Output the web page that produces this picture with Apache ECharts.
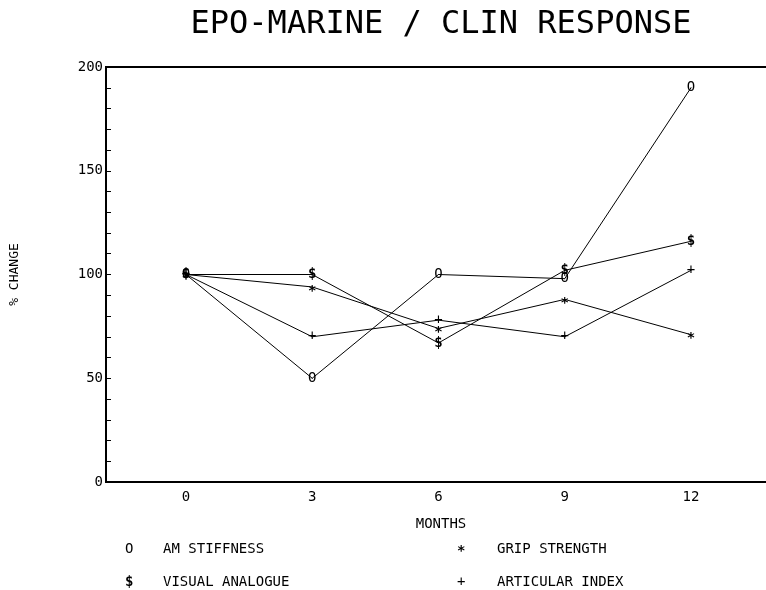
<!DOCTYPE html>
<html><head><meta charset="utf-8">
<script src="https://cdn.jsdelivr.net/npm/echarts/dist/echarts.min.js"></script>
<style>html,body{margin:0;padding:0;background:#fff}#c{width:766px;height:590px}</style>
</head><body><div id="c"></div>
<script>
const titleText = 'EPO-MARINE / CLIN RESPONSE';
const months = [0, 3, 6, 9, 12];
const yTicks = [0, 50, 100, 150, 200];
const seriesNames = ['AM STIFFNESS', 'VISUAL ANALOGUE', 'GRIP STRENGTH', 'ARTICULAR INDEX'];
const seriesMarks = ['O', '$', '*', '+'];
const amStiffness = [100, 50, 100, 98, 190];
const visualAnalogue = [100, 100, 67, 102, 116];
const gripStrength = [100, 94, 74, 88, 71];
const articularIndex = [100, 70, 78, 70, 102];

const seriesValues = [amStiffness, visualAnalogue, gripStrength, articularIndex];
const FONT = '"DejaVu Sans Mono", monospace';
const markOffset = [[0, 0], [0, 0], [0, 4], [0, 0]];
const markWeight = ['normal', 'bold', 'bold', 'normal'];

const chart = echarts.init(document.getElementById('c'), null, {renderer: 'canvas'});

const series = seriesNames.map((name, i) => ({
  name: name,
  type: 'line',
  data: months.map((m, j) => [m, seriesValues[i][j]]),
  symbol: 'circle',
  symbolSize: 1,
  itemStyle: {color: '#000'},
  lineStyle: {color: '#000', width: 1},
  label: {
    show: true, position: 'inside', formatter: seriesMarks[i], offset: markOffset[i],
    fontFamily: FONT, fontSize: 14, fontWeight: markWeight[i], color: '#000'
  },
  z: 3
}));

// legend layout: two columns, two rows
const legendOrder = [0, 2, 1, 3];
const colSym = [125, 457], colTxt = [163, 497], rowY = [550, 583];
const graphics = [];
legendOrder.forEach((si, k) => {
  const col = k % 2, row = Math.floor(k / 2);
  graphics.push({type: 'text', left: colSym[col], top: rowY[row] - 8 + markOffset[si][1] / 2,
    style: {text: seriesMarks[si], font: markWeight[si] + ' 14px ' + FONT, fill: '#000'}});
  graphics.push({type: 'text', left: colTxt[col], top: rowY[row] - 8,
    style: {text: seriesNames[si], font: '14px ' + FONT, fill: '#000'}});
});

chart.setOption({
  animation: false,
  backgroundColor: '#fff',
  title: {
    text: titleText, left: 436, top: 4, textAlign: 'center',
    textStyle: {fontFamily: FONT, fontSize: 32, fontWeight: 'normal', color: '#000'}
  },
  grid: {left: 106, top: 67, width: 670, height: 415, containLabel: false, outerBoundsMode: 'none',
    show: true, borderColor: '#000', borderWidth: 2},
  xAxis: {
    type: 'value', min: -1.9, max: 14.02,
    name: 'MONTHS', nameLocation: 'middle', nameGap: 35,
    nameTextStyle: {fontFamily: FONT, fontSize: 14, color: '#000'},
    splitLine: {show: false},
    axisLine: {show: true, onZero: false, lineStyle: {color: '#000', width: 2}},
    axisTick: {show: false},
    axisLabel: {customValues: months, fontFamily: FONT, fontSize: 14, color: '#000', margin: 8}
  },
  yAxis: {
    type: 'value', min: 0, max: 200, interval: 10,
    name: '% CHANGE', nameLocation: 'middle', nameGap: 85, nameRotate: 90,
    nameTextStyle: {fontFamily: FONT, fontSize: 13, color: '#000'},
    splitLine: {show: false},
    axisLine: {show: true, onZero: false, lineStyle: {color: '#000', width: 2}},
    axisTick: {show: true, inside: true, length: 5, lineStyle: {color: '#000', width: 1}},
    axisLabel: {customValues: yTicks, fontFamily: FONT, fontSize: 14, color: '#000', margin: 3}
  },
  graphic: graphics,
  series: series
});
</script></body></html>
